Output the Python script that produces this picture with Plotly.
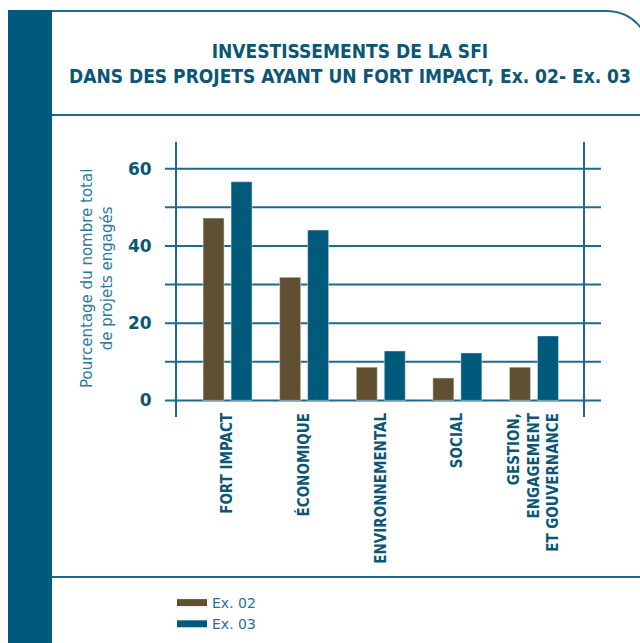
import plotly.graph_objects as go

categories = ['FORT IMPACT', 'ÉCONOMIQUE', 'ENVIRONNEMENTAL', 'SOCIAL',
              'GESTION,<br>ENGAGEMENT<br>ET GOUVERNANCE']
ex02 = [47.2, 31.9, 8.6, 5.8, 8.6]
ex03 = [56.6, 44.1, 12.8, 12.3, 16.7]
grid_vals = [0, 10, 20, 30, 40, 50, 60]
grid_text = ['0', '', '20', '', '40', '', '60']

BROWN = '#614f31'
BLUE = '#005a7c'
LINE = '#1d6a8e'
DARK = '#0b5675'
NARROW = 'DejaVu Sans Condensed, DejaVu Sans, sans-serif'

# plot area in screen pixels; figure is a bit taller than the window so the legend never pushes margins
L, R, T, B = 177, 583, 142, 417
W, H = 640, 660


def px(x):
    return (x - L) / (R - L)


def py(y):
    return (B - y) / (B - T)


fig = go.Figure()
fig.add_trace(go.Bar(x=categories, y=ex02, marker_color=BROWN, showlegend=False,
                     legendgroup='02', name='Ex. 02'))
fig.add_trace(go.Bar(x=categories, y=ex03, marker_color=BLUE, showlegend=False,
                     legendgroup='03', name='Ex. 03'))
# legend entries drawn as thick lines
fig.add_trace(go.Scatter(x=[None], y=[None], mode='lines', name='Ex. 02', legendgroup='02',
                         line=dict(color=BROWN, width=7)))
fig.add_trace(go.Scatter(x=[None], y=[None], mode='lines', name='Ex. 03', legendgroup='03',
                         line=dict(color=BLUE, width=7)))

# gridlines, extended past the frame like the original
for v in grid_vals:
    fig.add_shape(type='line', xref='paper', yref='y', x0=px(165), x1=px(601), y0=v, y1=v,
                  line=dict(color=LINE, width=2), layer='below')

# decoration: left band, top border with rounded corner, rules
fig.add_shape(type='rect', xref='paper', yref='paper', x0=px(8), x1=px(52), y0=py(10), y1=py(H),
              fillcolor='#005a7d', line_width=0)
fig.add_shape(type='path', xref='paper', yref='paper',
              path=f'M{px(52)},{py(11)} L{px(606)},{py(11)} Q{px(628)},{py(11)} {px(641)},{py(28)}',
              line=dict(color=LINE, width=2))
fig.add_shape(type='line', xref='paper', yref='paper', x0=px(52), x1=px(W), y0=py(115), y1=py(115),
              line=dict(color=LINE, width=2))
fig.add_shape(type='line', xref='paper', yref='paper', x0=px(52), x1=px(W), y0=py(577), y1=py(577),
              line=dict(color=LINE, width=2))

fig.add_annotation(xref='paper', yref='paper', x=px(350), y=py(64), showarrow=False,
                   xanchor='center', yanchor='middle',
                   text='INVESTISSEMENTS DE LA SFI<br>DANS DES PROJETS AYANT UN FORT IMPACT, Ex. 02- Ex. 03',
                   font=dict(family=NARROW, size=19, color=DARK, weight='bold'))
fig.add_annotation(xref='paper', yref='paper', x=px(97), y=py(279), showarrow=False, textangle=-90,
                   xanchor='center', yanchor='middle',
                   text='Pourcentage du nombre total<br>de projets engagés',
                   font=dict(family='DejaVu Sans', size=15, color='#2b7a99'))

fig.update_layout(
    width=W, height=H,
    margin=dict(l=L, r=W - R, t=T, b=H - B, pad=0),
    paper_bgcolor='white', plot_bgcolor='white',
    barmode='group', bargap=0.269, bargroupgap=0.25,
    legend=dict(x=px(172), y=py(587), xanchor='left', yanchor='top',
                font=dict(family='DejaVu Sans', size=14, color='#2a7090'),
                itemwidth=30, tracegroupgap=0, bgcolor='rgba(0,0,0,0)'),
)
fig.update_xaxes(range=[-0.66, 4.64], showgrid=False, showline=False, ticks='',
                 tickangle=-90, ticklabelstandoff=-8,
                 tickfont=dict(family=NARROW, size=15, color=DARK, weight='bold'))
fig.update_yaxes(range=[-4.3, 66.9], tickvals=grid_vals, ticktext=grid_text,
                 showgrid=False, zeroline=False, showline=True, mirror=True,
                 linecolor=LINE, linewidth=2, ticks='', ticklabelstandoff=20,
                 tickfont=dict(family='DejaVu Sans', size=17, color=DARK, weight='bold'))

# drop the default page margin and scrollbars so figure pixels line up with the window
fig.write_html('out.html', config={'displayModeBar': False}, post_script=(
    "document.body.style.margin='0';"
    "document.body.style.overflow='hidden';"
    "document.documentElement.style.overflow='hidden';"))
